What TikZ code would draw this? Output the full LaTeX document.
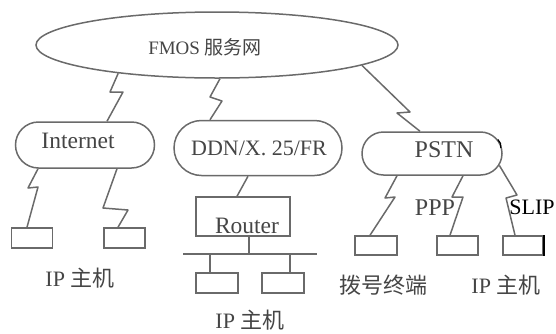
\documentclass[tikz,border=0pt]{standalone}
\usepackage{fontspec}
\setmainfont{Liberation Serif}
\newfontfamily\cjk{Noto Sans CJK SC}
\usetikzlibrary{shapes.geometric,shapes.misc}
\definecolor{ink}{HTML}{6A6A6A}
\definecolor{txt}{HTML}{454545}
\begin{document}
\begin{tikzpicture}[x=1pt,y=-1pt,
  bignet/.style={ellipse,draw=ink,line width=1.5pt,inner sep=0pt},
  subnet/.style={rounded rectangle,draw=ink,line width=1.5pt,inner sep=0pt},
  host/.style={rectangle,draw=ink,line width=1.5pt,inner sep=0pt,
    minimum width=41pt,minimum height=20pt},
  wire/.style={draw=ink,line width=1.5pt,line join=round},
  lbl/.style={text=txt,inner sep=0pt,font=\fontsize{22}{24}\selectfont},
  big/.style={font=\fontsize{24}{26}\selectfont}]
\useasboundingbox (0,0) rectangle (556,333);

% backbone service network
\node[bignet,minimum width=362pt,minimum height=66pt] (fmos) at (217,45) {};
\node[lbl,font=\fontsize{19}{21}\selectfont] (fmosT) at (205,47) {FMOS {\cjk 服务网}};

% access networks
\node[subnet,minimum width=139pt,minimum height=46pt] (inet) at (85,145) {};
\node[lbl,font=\fontsize{23.5}{25}\selectfont] (inetT) at (78,141) {Internet};
\node[subnet,minimum width=168pt,minimum height=55pt] (ddn) at (258,148) {};
\node[lbl] (ddnT) at (259,148) {DDN/X. 25/FR};
\node[subnet,minimum width=140pt,minimum height=43pt] (pstn) at (432,153.5) {};
\node[lbl,big] (pstnT) at (444,150) {PSTN};

% backbone links
\draw[wire] (fmos.196) -- (110,92) -- (123,92) -- ([xshift=22pt]inet.north);
\draw[wire] (fmos.275) -- (210,97) -- (222,101) -- ([xshift=-48pt]ddn.north);
\draw[wire] (fmos.-8) -- (410,112) -- (397,113) -- ([xshift=-12pt]pstn.north);

% Internet hosts
\node[host] (h1) at (32,238) {};
\node[host] (h2) at (124.5,238) {};
\draw[wire] ([xshift=-47pt]inet.south) -- (28,188) -- (38,187) -- ([xshift=-5pt]h1.north);
\draw[wire] ([xshift=32pt]inet.south) -- (103,208) -- (128,210) -- ([xshift=-6.5pt]h2.north);
\node[lbl] (ipA) at (80,278) {IP {\cjk 主机}};

% router and LAN
\node[rectangle,draw=ink,line width=1.5pt,minimum width=94pt,minimum height=39pt,inner sep=0pt] (router) at (243,216.5) {};
\node[lbl,font=\fontsize{23.5}{25}\selectfont] (routerT) at (247,226) {Router};
\draw[wire] ([xshift=-10pt]ddn.south) -- ([xshift=-6pt]router.north);
\coordinate (busL) at (183,254);
\coordinate (busR) at (317,254);
\coordinate (tap) at (249,254);
\coordinate (d3) at (210,254);
\coordinate (d4) at (290,254);
\draw[wire] (busL) -- (busR);
\draw[wire] (router.south -| tap) -- (tap);
\node[host,minimum width=42pt] (h3) at (217,283) {};
\node[host,minimum width=42pt] (h4) at (283,283) {};
\draw[wire] (d3) -- (h3.north -| d3);
\draw[wire] (d4) -- (h4.north -| d4);
\node[lbl] (ipB) at (250,320) {IP {\cjk 主机}};

% dial-up side
\node[host,minimum width=42pt,minimum height=19pt] (h5) at (376,245.5) {};
\node[host,minimum height=19pt] (h6) at (457.5,245.5) {};
\node[host,minimum width=40pt,minimum height=19pt] (h7) at (523,245.5) {};
\draw[wire] ([xshift=-35pt]pstn.south) -- (385,198) -- (395,197) -- ([xshift=-6pt]h5.north);
\draw[wire] ([xshift=31pt]pstn.south) -- (452,197) -- (463,197) -- ([xshift=-7.5pt]h6.north);
\draw[wire] (pstn.-10) -- (517,195) -- (506,198) -- ([xshift=-8pt]h7.north);
\draw[line width=1.5pt] (h7.north east) -- (h7.south east);
\draw[line width=1.2pt] (pstn.12) arc[start angle=50,end angle=-10,radius=9pt];
\node[lbl,big] (pppT) at (435,208) {PPP};
\node[lbl,text=black] (slipT) at (532,207) {SLIP};
\node[lbl] (dialT) at (383,285) {{\cjk 拨号终端}};
\node[lbl] (ipC) at (506,285) {IP {\cjk 主机}};
\end{tikzpicture}
\end{document}
